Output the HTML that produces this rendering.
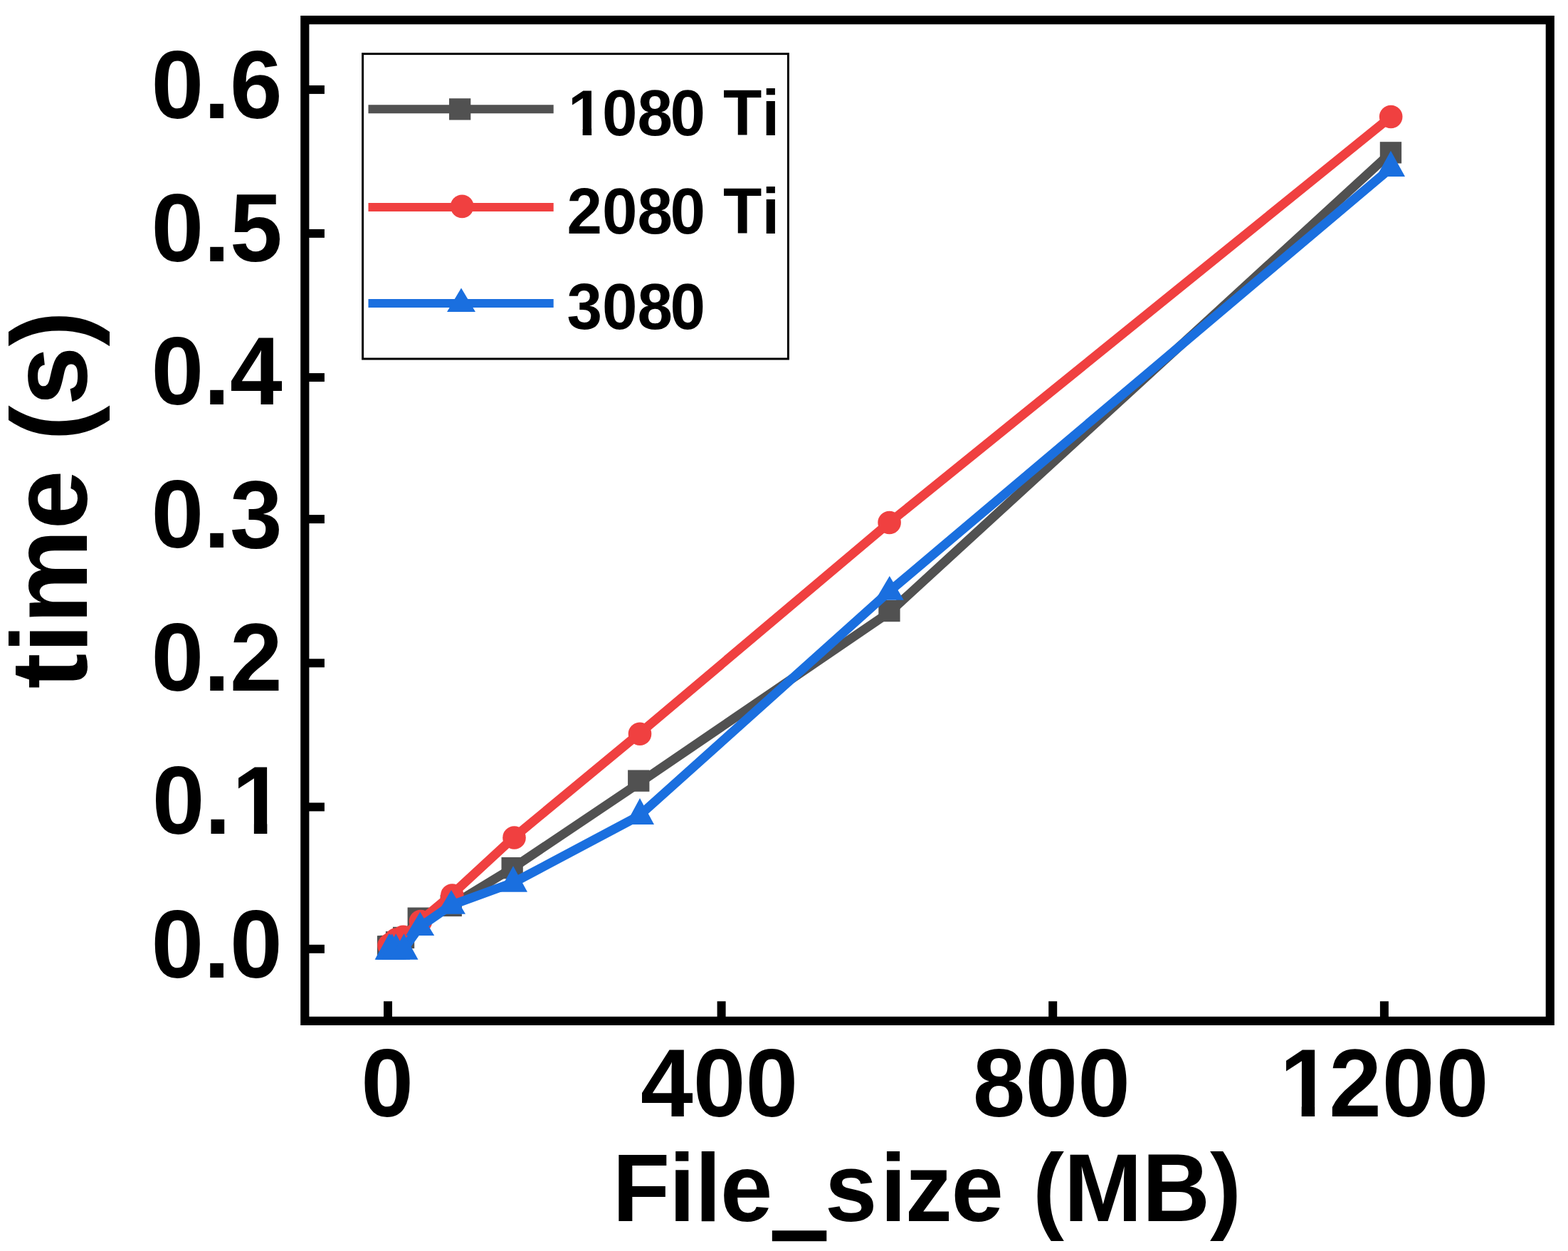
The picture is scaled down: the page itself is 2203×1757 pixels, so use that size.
<!DOCTYPE html>
<html lang="en">
<head>
<meta charset="utf-8">
<title>time (s) vs File_size (MB)</title>
<style>
html, body { margin: 0; padding: 0; background: #ffffff; }
body { width: 2203px; height: 1757px; overflow: hidden; }
svg { display: block; }
text { font-family: "Liberation Sans", sans-serif; font-weight: bold; fill: #000000; }
.tick { font-size: 132.6px; }
.xlab { font-size: 132px; }
.ylab { font-size: 149.2px; }
.leg { font-size: 89px; }
</style>
</head>
<body>
<svg width="2203" height="1757" viewBox="0 0 2203 1757" role="img" aria-label="Line chart of time (s) against File_size (MB) for 1080 Ti, 2080 Ti and 3080">
<rect x="0" y="0" width="2203" height="1757" fill="#ffffff"/>

<defs><clipPath id="one-tick"><path clip-rule="evenodd" d="M-4000,-4000H4000V4000H-4000Z M5.35,-14.13H30.80V3H5.35Z M49.29,-14.13H73.06V3H49.29Z"/></clipPath><clipPath id="one-leg"><path clip-rule="evenodd" d="M-4000,-4000H4000V4000H-4000Z M2.61,-9.68H20.62V3H2.61Z M33.13,-9.68H50.02V3H33.13Z"/></clipPath></defs>
<g id="series-1080ti">
<polyline points="546.4,1329.5 547.8,1329.5 550.5,1329.0 556.0,1323.3 567.0,1317.0 589.3,1289.7 633.6,1272.0 721.4,1218.4 897.6,1100.0 1249.6,860.0 1954.2,214.4" fill="none" stroke="#515151" stroke-width="12.8" stroke-linejoin="round" stroke-linecap="butt"/>
<rect x="529.9" y="1314.2" width="30.3" height="30.3" fill="#515151"/>
<rect x="531.4" y="1314.2" width="30.3" height="30.3" fill="#515151"/>
<rect x="534.4" y="1313.8" width="30.3" height="30.3" fill="#515151"/>
<rect x="541.9" y="1308.1" width="30.3" height="30.3" fill="#515151"/>
<rect x="551.9" y="1301.8" width="30.3" height="30.3" fill="#515151"/>
<rect x="572.6" y="1274.5" width="30.3" height="30.3" fill="#515151"/>
<rect x="618.6" y="1256.8" width="30.3" height="30.3" fill="#515151"/>
<rect x="704.5" y="1204.0" width="30.3" height="30.3" fill="#515151"/>
<rect x="882.1" y="1081.5" width="30.3" height="30.3" fill="#515151"/>
<rect x="1234.3" y="842.9" width="30.3" height="30.3" fill="#515151"/>
<rect x="1938.8" y="199.2" width="30.3" height="30.3" fill="#515151"/>
</g>
<g id="series-2080ti">
<polyline points="546.4,1328.0 547.8,1326.5 550.5,1324.5 556.0,1319.5 567.0,1315.7 589.3,1294.2 633.6,1257.5 721.4,1176.5 897.6,1030.8 1249.6,734.0 1954.2,164.0" fill="none" stroke="#F04040" stroke-width="12.8" stroke-linejoin="round" stroke-linecap="butt"/>
<circle cx="546.5" cy="1328.0" r="16.3" fill="#F04040"/>
<circle cx="548.0" cy="1326.5" r="16.3" fill="#F04040"/>
<circle cx="551.0" cy="1324.5" r="16.3" fill="#F04040"/>
<circle cx="556.5" cy="1319.5" r="16.3" fill="#F04040"/>
<circle cx="566.4" cy="1315.7" r="16.3" fill="#F04040"/>
<circle cx="591.0" cy="1294.1" r="16.3" fill="#F04040"/>
<circle cx="635.3" cy="1257.5" r="16.3" fill="#F04040"/>
<circle cx="722.5" cy="1176.5" r="16.3" fill="#F04040"/>
<circle cx="899.0" cy="1030.8" r="16.3" fill="#F04040"/>
<circle cx="1249.6" cy="734.0" r="16.3" fill="#F04040"/>
<circle cx="1954.2" cy="164.0" r="16.3" fill="#F04040"/>
</g>
<g id="series-3080">
<polyline points="546.4,1333.3 547.8,1333.3 550.5,1333.3 556.0,1333.3 567.0,1333.3 589.3,1302.3 633.6,1271.5 721.4,1239.5 897.6,1146.0 1249.6,830.5 1954.2,236.0" fill="none" stroke="#1A6FDF" stroke-width="12.8" stroke-linejoin="round" stroke-linecap="butt"/>
<polygon points="546.6,1311.2 566.6,1347.8 526.6,1347.8" fill="#1A6FDF"/>
<polygon points="548.0,1311.2 568.0,1347.8 528.0,1347.8" fill="#1A6FDF"/>
<polygon points="550.7,1311.2 570.7,1347.8 530.7,1347.8" fill="#1A6FDF"/>
<polygon points="556.2,1311.2 576.2,1347.8 536.2,1347.8" fill="#1A6FDF"/>
<polygon points="567.5,1311.2 587.5,1347.8 547.5,1347.8" fill="#1A6FDF"/>
<polygon points="590.2,1280.8 610.2,1314.0 570.2,1314.0" fill="#1A6FDF"/>
<polygon points="634.0,1249.9 654.0,1283.7 614.0,1283.7" fill="#1A6FDF"/>
<polygon points="721.0,1216.3 741.0,1252.8 701.0,1252.8" fill="#1A6FDF"/>
<polygon points="899.0,1121.0 919.0,1158.0 879.0,1158.0" fill="#1A6FDF"/>
<polygon points="1249.8,809.0 1269.8,842.7 1229.8,842.7" fill="#1A6FDF"/>
<polygon points="1954.0,211.8 1974.0,248.1 1934.0,248.1" fill="#1A6FDF"/>
</g>
<g id="axes" fill="#000000">
<rect x="428.30" y="28.10" width="1749.50" height="1405.80" fill="none" stroke="#000000" stroke-width="12.2"/>
<rect x="433.40" y="1326.80" width="22.50" height="12"/>
<rect x="433.40" y="1127.40" width="22.50" height="12"/>
<rect x="433.40" y="925.30" width="22.50" height="12"/>
<rect x="433.40" y="723.10" width="22.50" height="12"/>
<rect x="433.40" y="524.10" width="22.50" height="12"/>
<rect x="433.40" y="321.90" width="22.50" height="12"/>
<rect x="433.40" y="119.90" width="22.50" height="12"/>
<rect x="539.00" y="1406.30" width="12" height="22.50"/>
<rect x="1007.60" y="1406.30" width="12" height="22.50"/>
<rect x="1473.20" y="1406.30" width="12" height="22.50"/>
<rect x="1938.90" y="1406.30" width="12" height="22.50"/>
</g>
<g id="ticklabels" class="tick">
<text transform="translate(396.8,1372.6) scale(1,1.017)" text-anchor="end">0.0</text>
<text transform="translate(326.05,1171.4) scale(1,1.017)" clip-path="url(#one-tick)" x="-112.29 -38.44 0">0.1</text>
<text transform="translate(396.8,970.3) scale(1,1.017)" text-anchor="end">0.2</text>
<text transform="translate(396.8,769.1) scale(1,1.017)" text-anchor="end">0.3</text>
<text transform="translate(396.8,568.0) scale(1,1.017)" text-anchor="end">0.4</text>
<text transform="translate(396.8,366.8) scale(1,1.017)" text-anchor="end">0.5</text>
<text transform="translate(396.8,165.7) scale(1,1.017)" text-anchor="end">0.6</text>
<text transform="translate(544.0,1567.8) scale(1,1.017)" text-anchor="middle">0</text>
<text transform="translate(1010.6,1567.8) scale(1,1.017)" text-anchor="middle">400</text>
<text transform="translate(1477.3,1567.8) scale(1,1.017)" text-anchor="middle">800</text>
<text transform="translate(1797.90,1567.8) scale(1,1.017)" clip-path="url(#one-tick)" x="0 69.35 143.79 219.74">1200</text>
</g>
<text id="xtitle" class="xlab" transform="translate(0,1715.4) scale(1,1.03)" x="860.4 940.0 976.6 1012.1 1090.9 1158.9 1236.7 1271.8 1336.4 1414.2 1450.9 1494.8 1604.8 1700.1">File<tspan font-size="115.5" stroke="#000000" stroke-width="10.1" stroke-linejoin="miter" dy="7.4">_</tspan><tspan dy="-7.4">size (MB)</tspan></text>
<text class="ylab" transform="translate(122,702) rotate(-90) scale(1,1.02)" text-anchor="middle">time (s)</text>
<g id="legend">
<rect x="509.6" y="75.6" width="597.8" height="428.4" fill="#ffffff" stroke="#000000" stroke-width="3"/>
<line x1="517.5" y1="153.3" x2="777.7" y2="153.3" stroke="#515151" stroke-width="12"/>
<line x1="517.5" y1="291.1" x2="777.7" y2="291.1" stroke="#F04040" stroke-width="12"/>
<line x1="517.5" y1="426.0" x2="777.7" y2="426.0" stroke="#1A6FDF" stroke-width="12"/>
<rect x="631.0" y="138.2" width="30.3" height="30.3" fill="#515151"/>
<circle cx="649.2" cy="289.9" r="16.3" fill="#F04040"/>
<polygon points="648.0,404.5 668.0,438.0 628.0,438.0" fill="#1A6FDF"/>
<text class="leg" transform="translate(798.0,190.0) scale(1,1.025)" clip-path="url(#one-leg)" x="0.0 48.0 97.5 143.6 193.1 217.9 272.4">1080 Ti</text>
<text class="leg" transform="translate(796.5,327.6) scale(1,1.025)" x="0.0 49.5 99.0 145.1 194.6 219.4 273.9">2080 Ti</text>
<text class="leg" transform="translate(796.5,461.6) scale(1,1.025)" x="0.0 49.5 99.0 145.1">3080</text>
</g>
</svg>
</body>
</html>
